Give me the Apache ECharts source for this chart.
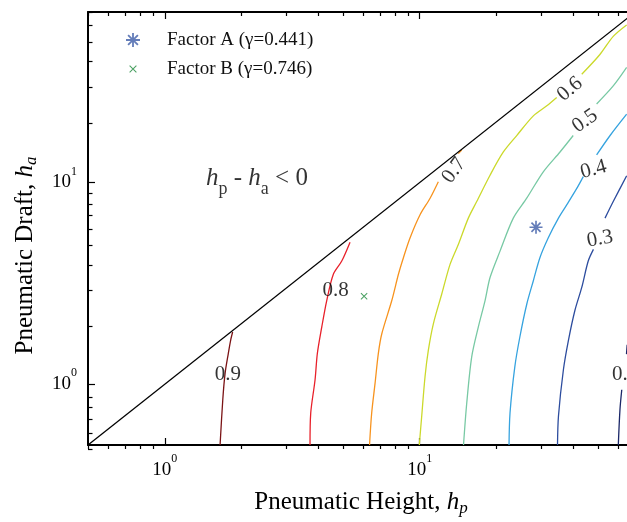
<!DOCTYPE html>
<html lang="en">
<head>
<meta charset="UTF-8">
<title>Pneumatic Height / Draft</title>
<script src="https://cdn.jsdelivr.net/npm/echarts@6/dist/echarts.min.js"></script>
<style>
  html, body { margin: 0; padding: 0; background: #fff; }
  #chart { width: 627px; height: 522px; }
</style>
</head>
<body>
<div id="chart"></div>
<script>
// log10 axes; the x axis is cut at the right edge of the figure
var xMin = 0.5, xMax = 65;
var yMin = 0.5, yMax = 70;
var majorTicks = [1, 10];
var minorTicks = [0.5, 0.6, 0.7, 0.8, 0.9, 2, 3, 4, 5, 6, 7, 8, 9, 20, 30, 40, 50, 60, 70];

// gamma contours (hp, ha); null = gap where the label sits
var c90x = [1.648, 1.689, 1.724, 1.775, 1.813, 1.846];
var c90y = [0.5, 0.841, 1.13, 1.42, 1.652, 1.815];
var c80x = [3.713, 3.737, 3.885, 3.967, 4.128, 4.318, 4.584, 4.945, 5.33];
var c80y = [0.5, 0.72, 1.05, 1.42, 1.92, 2.60, 3.51, 4.08, 5.06];
var c70x = [6.356, 6.48, 6.68, 6.88, 7.10, 7.77, 8.25, 8.63, 9.16, 10.03, 10.98, 11.83, null, 14.17, 14.6];
var c70y = [0.5, 0.72, 1.01, 1.42, 1.78, 2.60, 3.51, 4.24, 5.31, 6.92, 8.36, 10.09, null, 13.9, 14.5];
var c60x = [9.96, 10.18, 10.49, 10.81, 11.31, 12.2, 13.15, 14.17, 15.51, 16.73, 18.87, 21.28, 24.01, 27.9, 31.5, 34.45, null, 43.2, 50.9, 57.4, 64.8];
var c60y = [0.5, 0.694, 1.09, 1.476, 1.994, 2.80, 3.93, 4.93, 6.66, 8.05, 10.87, 14.17, 17.09, 21.4, 24.0, 26.4, null, 34.4, 43.1, 53.0, 60.4];
var c50x = [14.85, 15.29, 15.99, 16.97, 18.04, 18.87, 20.65, 23.28, 26.28, 30.52, 35.5, 40.0, null, 49.4, 57.4, 64.8];
var c50y = [0.5, 0.807, 1.368, 1.92, 2.60, 3.38, 4.57, 6.66, 8.36, 11.3, 14.17, 17.1, null, 24.5, 30.1, 37.2];
var c40x = [22.4, 22.6, 23.6, 24.7, 26.3, 27.9, 29.6, 31.9, 35.0, 37.7, 41.3, 43.8, null, 49.4, 55.8, 64.8];
var c40y = [0.5, 0.72, 1.22, 1.715, 2.50, 3.26, 4.24, 5.31, 6.66, 7.74, 9.35, 10.7, null, 13.7, 17.1, 21.8];
var c30x = [34.7, 35.0, 36.6, 38.3, 40.6, 43.2, 45.8, 48.0, null, 53.3, 57.4, 64.8];
var c30y = [0.5, 0.694, 1.18, 1.65, 2.32, 3.02, 4.08, 4.66, null, 6.66, 8.05, 10.8];
var c20x = [60.1, 61.0, 62.0, null, 64.7, 65.1];
var c20y = [0.5, 0.749, 0.939, null, 1.41, 1.57];

var levels = ['0.9', '0.8', '0.7', '0.6', '0.5', '0.4', '0.3', '0.2'];
var levelColors = ['#7b1315', '#e8202a', '#f7931e', '#cbd92b', '#78c9a4', '#36a3df', '#2c4c9e', '#1b2768'];
var contourX = [c90x, c80x, c70x, c60x, c50x, c40x, c30x, c20x];
var contourY = [c90y, c80y, c70y, c60y, c50y, c40y, c30y, c20y];

// contour label anchors and angles
var labelX = [1.77, 4.675, 13.63, 38.86, 44.5, 48.05, 50.9, 63.85];
var labelY = [1.116, 2.90, 11.47, 29.0, 20.2, 11.6, 5.25, 1.116];
var labelAngle = [0, 0, 54, 40, 35, 15, 10, 0];

// hp = ha boundary
var diagX = [0.5, 70];
var diagY = [0.5, 70];

// the two factors
var factorNames = ['Factor A (\u03b3=0.441)', 'Factor B (\u03b3=0.746)'];
var factorX = [28.58, 6.05];
var factorY = [6.0, 2.73];

var noteX = 2.3, noteY = 10.5;

var serif = "'Liberation Serif', 'Times New Roman', serif";
var starPath = 'path://M-1.3 -10 L1.3 -10 L1.3 10 L-1.3 10 Z M-10 -1.3 L10 -1.3 L10 1.3 L-10 1.3 Z M-6.08 -7.92 L7.92 6.08 L6.08 7.92 L-7.92 -6.08 Z M6.08 -7.92 L7.92 -6.08 L-6.08 7.92 L-7.92 6.08 Z';
var crossPath = 'path://M-7 -5.6 L-5.6 -7 L7 5.6 L5.6 7 Z M5.6 -7 L7 -5.6 L-5.6 7 L-7 5.6 Z';
var crossLegend = 'path://M-13 -13 M13 13 M-7 -5.6 L-5.6 -7 L7 5.6 L5.6 7 Z M5.6 -7 L7 -5.6 L-5.6 7 L-7 5.6 Z';

function lg(v) { return Math.log10(v); }
function pairs(xs, ys) {
    return xs.map(function (x, i) {
        return x == null ? ['-', '-'] : [lg(x), lg(ys[i])];
    });
}

var majorLog = majorTicks.map(lg);
var minorLog = minorTicks.map(lg);

var tickRich = {
    b: { fontFamily: serif, fontSize: 19, lineHeight: 34, color: '#000' },
    s: { fontFamily: serif, fontSize: 12, lineHeight: 14, verticalAlign: 'top', color: '#000' }
};
function powLabel(v) { return '{b|10}{s|' + Math.round(v) + '}'; }

var titleRich = {
    n: { fontFamily: serif, fontSize: 25, lineHeight: 30, color: '#000' },
    i: { fontFamily: serif, fontSize: 25, lineHeight: 30, fontStyle: 'italic', color: '#000' },
    s: { fontFamily: serif, fontSize: 17, lineHeight: 17, fontStyle: 'italic', verticalAlign: 'bottom', color: '#000' }
};

var blackLine = { color: '#000', width: 2 };
var tickLine = { color: '#000', width: 1.2 };

var series = [];
for (var k = 0; k < levels.length; k++) {
    series.push({
        name: 'gamma ' + levels[k],
        type: 'line',
        data: pairs(contourX[k], contourY[k]),
        showSymbol: false,
        connectNulls: false,
        smooth: 0.3,
        lineStyle: { color: levelColors[k], width: 1.3 },
        silent: true,
        z: 3
    });
}
series.push({
    name: 'hp = ha',
    type: 'line',
    data: pairs(diagX, diagY),
    showSymbol: false,
    lineStyle: { color: '#000', width: 1.3 },
    silent: true,
    z: 4
});
series.push({
    name: factorNames[0],
    type: 'scatter',
    symbol: starPath,
    symbolSize: 13,
    itemStyle: { color: '#3d5ca8' },
    data: [[lg(factorX[0]), lg(factorY[0])]],
    z: 6
});
series.push({
    name: factorNames[1],
    type: 'scatter',
    symbol: crossPath,
    symbolSize: 7,
    itemStyle: { color: '#1e8a3c' },
    data: [[lg(factorX[1]), lg(factorY[1])]],
    z: 6
});
series.push({
    name: 'levels',
    type: 'scatter',
    symbolSize: 0,
    silent: true,
    z: 7,
    data: levels.map(function (t, i) {
        return {
            value: [lg(labelX[i]), lg(labelY[i])],
            label: { formatter: t, rotate: labelAngle[i] }
        };
    }),
    label: {
        show: true,
        position: 'inside',
        fontFamily: serif,
        fontSize: 21,
        color: '#000'
    }
});
series.push({
    name: 'note',
    type: 'scatter',
    symbolSize: 0,
    silent: true,
    z: 7,
    data: [[lg(noteX), lg(noteY)]],
    label: {
        show: true,
        position: 'inside',
        formatter: '{i|h}{s|p}{n| - }{i|h}{s|a}{n| < 0}',
        rich: {
            n: { fontFamily: serif, fontSize: 25, lineHeight: 40, color: '#000' },
            i: { fontFamily: serif, fontSize: 25, lineHeight: 40, fontStyle: 'italic', color: '#000' },
            s: { fontFamily: serif, fontSize: 18, lineHeight: 18, verticalAlign: 'bottom', color: '#000' }
        }
    }
});

var gridBox = { left: 88, top: 12, width: 539, height: 437 };
var xLo = lg(xMin), xHi = lg(xMax);
var yLo = lg(yMin), yHi = lg(yMax);

var option = {
    animation: false,
    backgroundColor: '#fff',
    grid: [gridBox, gridBox],
    legend: {
        orient: 'vertical',
        left: 126,
        top: 30,
        padding: 0,
        itemWidth: 14,
        itemHeight: 14,
        itemGap: 9,
        data: [
            { name: factorNames[0], icon: starPath },
            { name: factorNames[1], icon: crossLegend }
        ],
        textStyle: { fontFamily: serif, fontSize: 19, lineHeight: 20, color: '#111', padding: [0, 0, 0, 22] }
    },
    xAxis: [
        {
            type: 'value', gridIndex: 0, position: 'bottom', min: xLo, max: xHi,
            axisLine: { onZero: false, lineStyle: blackLine },
            axisTick: { inside: true, length: 7, customValues: majorLog, lineStyle: tickLine },
            axisLabel: { customValues: majorLog, margin: 8, formatter: powLabel, rich: tickRich },
            splitLine: { show: false },
            name: '{n|Pneumatic Height, }{i|h}{s|p}',
            nameLocation: 'middle',
            nameGap: 42,
            nameTextStyle: { rich: titleRich, padding: [0, 0, 0, 7] }
        },
        {
            type: 'value', gridIndex: 0, position: 'top', min: xLo, max: xHi,
            axisLine: { onZero: false, lineStyle: blackLine },
            axisTick: { inside: true, length: 7, customValues: majorLog, lineStyle: tickLine },
            axisLabel: { show: false },
            splitLine: { show: false }
        },
        {
            type: 'value', gridIndex: 1, position: 'bottom', min: xLo, max: xHi,
            axisLine: { show: false, onZero: false },
            axisTick: { inside: true, length: 4, customValues: minorLog, lineStyle: tickLine },
            axisLabel: { show: false },
            splitLine: { show: false }
        },
        {
            type: 'value', gridIndex: 1, position: 'top', min: xLo, max: xHi,
            axisLine: { show: false, onZero: false },
            axisTick: { inside: true, length: 4, customValues: minorLog, lineStyle: tickLine },
            axisLabel: { show: false },
            splitLine: { show: false }
        }
    ],
    yAxis: [
        {
            type: 'value', gridIndex: 0, position: 'left', min: yLo, max: yHi,
            axisLine: { onZero: false, lineStyle: blackLine },
            axisTick: { inside: true, length: 7, customValues: majorLog, lineStyle: tickLine },
            axisLabel: { customValues: majorLog, margin: 11, formatter: powLabel, rich: tickRich },
            splitLine: { show: false },
            name: '{n|Pneumatic Draft, }{i|h}{s|a}',
            nameLocation: 'middle',
            nameGap: 48,
            nameTextStyle: { rich: titleRich, padding: [0, 54, 0, 0] }
        },
        {
            type: 'value', gridIndex: 1, position: 'left', min: yLo, max: yHi,
            axisLine: { show: false, onZero: false },
            axisTick: { inside: true, length: 4.5, customValues: minorLog, lineStyle: tickLine },
            axisLabel: { show: false },
            splitLine: { show: false }
        }
    ],
    series: series
};

var chart = echarts.init(document.getElementById('chart'));
chart.setOption(option);
</script>
</body>
</html>
